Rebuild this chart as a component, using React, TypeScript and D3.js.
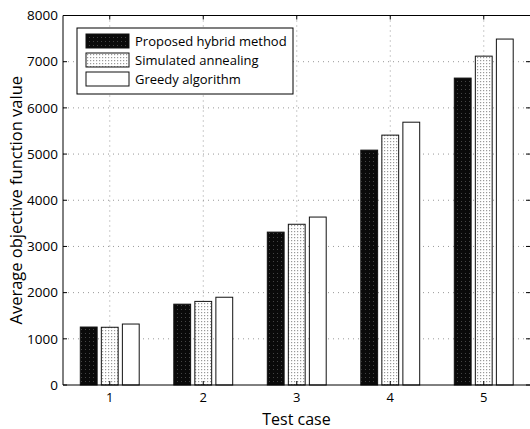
import React from "react";
import * as d3 from "d3";

const categories = ["1", "2", "3", "4", "5"];
const seriesNames = ["Proposed hybrid method", "Simulated annealing", "Greedy algorithm"];
const hybrid = [1255, 1750, 3310, 5085, 6645];
const annealing = [1250, 1810, 3480, 5410, 7120];
const greedy = [1320, 1900, 3636, 5690, 7490];
const yTicks = [0, 1000, 2000, 3000, 4000, 5000, 6000, 7000, 8000];

const W = 530, H = 429;
const margin = { left: 63, right: 0, top: 15.5, bottom: 44 };

export default function App() {
  const x = d3.scaleLinear().domain([0.5, 5.5]).range([margin.left, W - margin.right + 0.5]);
  const y = d3.scaleLinear().domain([0, 8000]).range([H - margin.bottom, margin.top]);
  const series = [hybrid, annealing, greedy];
  const fills = ["url(#darkdots)", "url(#lightdots)", "#fff"];
  const offsets = [-0.225, 0, 0.225];
  const bw = x(0.18) - x(0);
  const font = "'Open Sans', 'DejaVu Sans', sans-serif";
  const y0 = y(0);
  return (
    <svg width={W} height={H} style={{ position: "absolute", left: 0, top: 0 }} fontFamily={font}>
      <defs>
        <pattern id="darkdots" width="4" height="4" patternUnits="userSpaceOnUse">
          <rect width="4" height="4" fill="#0a0a0a" />
          <rect x="1" y="1" width="1" height="1" fill="#444" />
        </pattern>
        <pattern id="lightdots" width="3" height="3" patternUnits="userSpaceOnUse">
          <rect width="3" height="3" fill="#fff" />
          <rect x="0" y="0" width="1.2" height="1.2" fill="#999" />
        </pattern>
      </defs>
      <rect width={W} height={H} fill="#fff" />
      {yTicks.slice(1, -1).map((t) => (
        <line key={"g" + t} x1={margin.left} x2={W} y1={y(t)} y2={y(t)} stroke="#999" strokeWidth={1} strokeDasharray="1,4" />
      ))}
      {categories.map((c, i) => (
        <line key={"gx" + c} x1={x(i + 1)} x2={x(i + 1)} y1={margin.top} y2={y0} stroke="#999" strokeWidth={1} strokeDasharray="1,4" />
      ))}
      {series.map((s, si) =>
        s.map((v, i) => (
          <rect key={si + "-" + i} x={x(i + 1 + offsets[si]) - bw / 2} y={y(v)} width={bw} height={y0 - y(v)}
            fill={fills[si]} stroke="#111" strokeWidth={1} />
        ))
      )}
      <line x1={margin.left} x2={margin.left} y1={margin.top} y2={y0} stroke="#000" />
      <line x1={margin.left} x2={W} y1={y0} y2={y0} stroke="#000" />
      <line x1={margin.left} x2={W} y1={margin.top} y2={margin.top} stroke="#000" />
      {yTicks.map((t) => (
        <g key={"t" + t}>
          <line x1={margin.left} x2={margin.left + 4} y1={y(t)} y2={y(t)} stroke="#000" />
          <line x1={W - 4} x2={W} y1={y(t)} y2={y(t)} stroke="#000" />
          <text x={margin.left - 5} y={y(t)} dy="0.35em" textAnchor="end" fontSize={13.5}>{t}</text>
        </g>
      ))}
      {categories.map((c, i) => (
        <g key={"xt" + c}>
          <line x1={x(i + 1)} x2={x(i + 1)} y1={y0} y2={y0 - 4} stroke="#000" />
          <line x1={x(i + 1)} x2={x(i + 1)} y1={margin.top} y2={margin.top + 4} stroke="#000" />
          <text x={x(i + 1)} y={y0 + 17} textAnchor="middle" fontSize={13}>{c}</text>
        </g>
      ))}
      <text x={(margin.left + W) / 2} y={H - 4} textAnchor="middle" fontSize={16}>Test case</text>
      <text transform={`translate(22,${(margin.top + y0) / 2}) rotate(-90)`} textAnchor="middle" fontSize={16.5}>
        Average objective function value
      </text>
      <rect x={77} y={28} width={216} height={66} fill="#fff" stroke="#000" />
      {seriesNames.map((n, i) => (
        <g key={n}>
          <rect x={86} y={34 + i * 19} width={43} height={14} fill={fills[i]} stroke="#111" />
          <text x={135} y={41 + i * 19} dy="0.35em" fontSize={13}>{n}</text>
        </g>
      ))}
    </svg>
  );
}
